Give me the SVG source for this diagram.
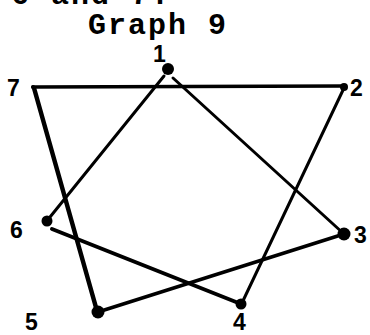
<svg xmlns="http://www.w3.org/2000/svg" width="370" height="335" viewBox="0 0 370 335">
<style>
.t{font-family:"Liberation Mono","Courier New",monospace;font-weight:bold;font-size:30px;fill:#000;letter-spacing:2px}
.l{font-family:"Liberation Sans",Arial,sans-serif;font-weight:bold;font-size:23px;fill:#000}
.e{stroke:#000;stroke-linecap:round;fill:none}
.d{fill:#000}
</style>
<rect width="370" height="335" fill="#fff"/>
<text class="t" x="11" y="4">6 and 7.</text>
<text class="t" x="88" y="34">Graph 9</text>
<g id="connectors">
<line class="e" x1="33" y1="87" x2="344" y2="86" stroke-width="3.5"/>
<line class="e" x1="34" y1="88" x2="97" y2="311" stroke-width="4.5"/>
<line class="e" x1="164" y1="76" x2="46" y2="222" stroke-width="3"/>
<line class="e" x1="173" y1="78" x2="344" y2="234" stroke-width="3"/>
<line class="e" x1="344" y1="88" x2="241" y2="305" stroke-width="3"/>
<line class="e" x1="52" y1="229" x2="241" y2="304" stroke-width="4"/>
<line class="e" x1="98" y1="312" x2="344" y2="234" stroke-width="3.5"/>
</g>
<g id="node1"><circle class="d" cx="168" cy="69" r="6"/><text class="l" x="153" y="62">1</text></g>
<g id="node2"><circle class="d" cx="344" cy="87" r="4"/><text class="l" x="350" y="96">2</text></g>
<g id="node3"><circle class="d" cx="344" cy="234" r="6.5"/><text class="l" x="354" y="243">3</text></g>
<g id="node4"><circle class="d" cx="241" cy="304" r="5.5"/><text class="l" x="233" y="330">4</text></g>
<g id="node5"><circle class="d" cx="98" cy="312" r="6.5"/><text class="l" x="25" y="330">5</text></g>
<g id="node6"><circle class="d" cx="47" cy="221" r="5.5"/><text class="l" x="10" y="238">6</text></g>
<g id="node7"><circle class="d" cx="33" cy="87" r="2"/><text class="l" x="7" y="96">7</text></g>
</svg>
